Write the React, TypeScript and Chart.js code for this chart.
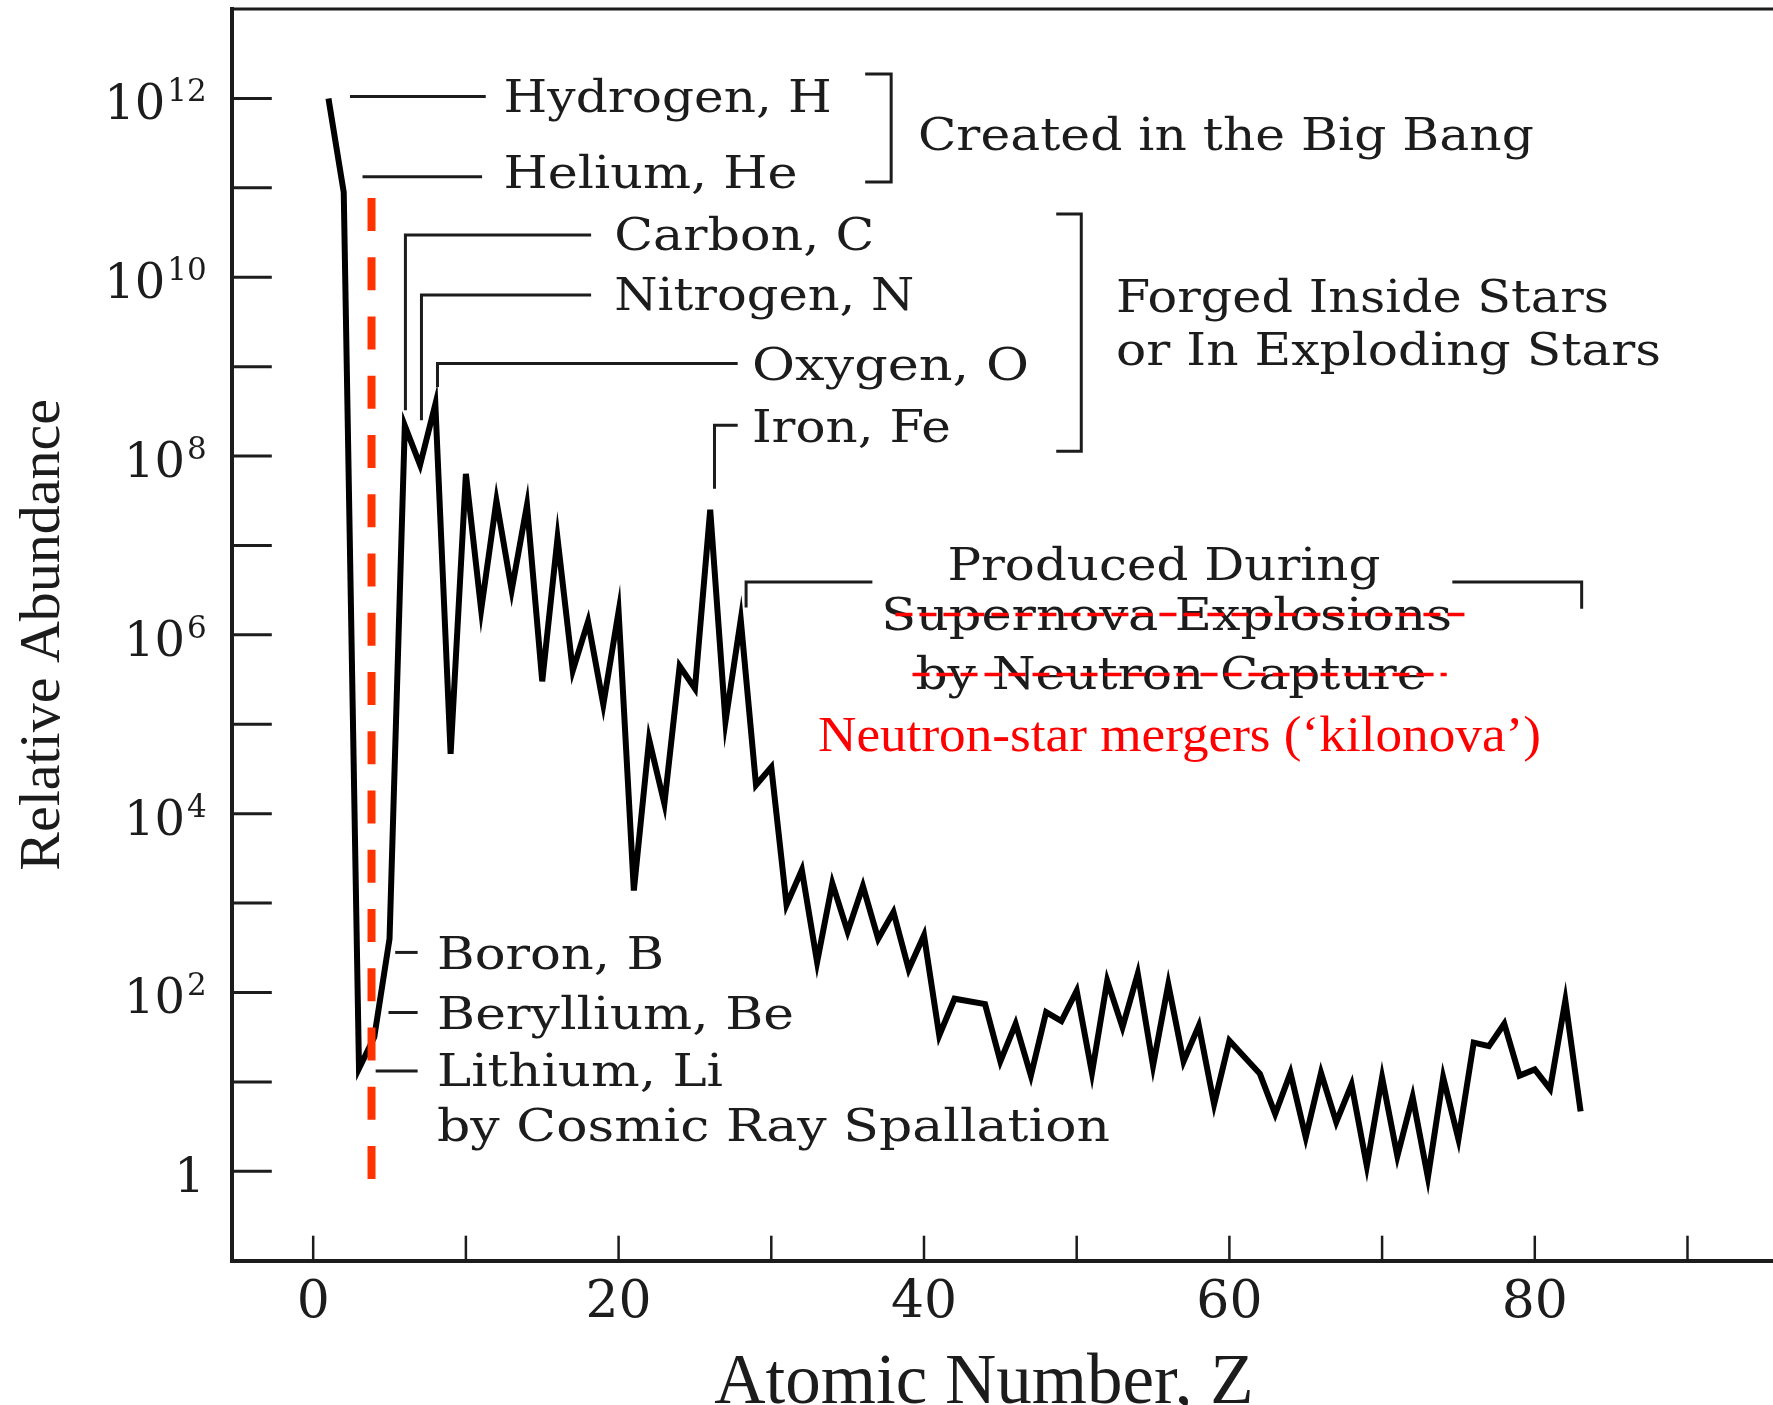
import React, { useEffect, useRef } from "react";
import { Chart, registerables } from "chart.js";

Chart.register(...registerables);

// ---- Data (atomic number Z, log10 of relative abundance; Tc=43 and Pm=61 absent) ----
const atomicNumber = [
  1, 2, 3, 4, 5, 6, 7, 8, 9, 10,
  11, 12, 13, 14, 15, 16, 17, 18, 19, 20,
  21, 22, 23, 24, 25, 26, 27, 28, 29, 30,
  31, 32, 33, 34, 35, 36, 37, 38, 39, 40,
  41, 42, 44, 45, 46, 47, 48, 49, 50,
  51, 52, 53, 54, 55, 56, 57, 58, 59, 60,
  62, 63, 64, 65, 66, 67, 68, 69, 70,
  71, 72, 73, 74, 75, 76, 77, 78, 79, 80,
  81, 82, 83,
];
const log10Abundance = [
  12.0, 10.95, 1.15, 1.5, 2.6, 8.34, 7.9, 8.58, 4.67, 7.8,
  6.28, 7.5, 6.5, 7.45, 5.48, 7.08, 5.6, 6.15, 5.22, 6.26,
  3.14, 4.83, 4.11, 5.65, 5.4, 7.4, 5.03, 6.17, 4.32, 4.52,
  2.98, 3.37, 2.34, 3.22, 2.68, 3.19, 2.6, 2.9, 2.26, 2.64,
  1.52, 1.93, 1.87, 1.23, 1.65, 1.07, 1.78, 1.68, 2.02,
  1.1, 2.13, 1.61, 2.21, 1.18, 2.09, 1.23, 1.63, 0.75, 1.46,
  1.09, 0.64, 1.1, 0.38, 1.1, 0.55, 0.97, 0.06, 1.05,
  0.17, 0.83, -0.07, 1.05, 0.36, 1.44, 1.4, 1.65, 1.07, 1.14,
  0.92, 1.91, 0.67,
];

const xTickValues = [0, 10, 20, 30, 40, 50, 60, 70, 80, 90];
const xLabelValues = [0, 20, 40, 60, 80];
const yTickExponents = [0, 1, 2, 3, 4, 5, 6, 7, 8, 9, 10, 11, 12];
const yLabelExponents = [0, 2, 4, 6, 8, 10, 12];

const xAxisTitle = "Atomic Number, Z";
const yAxisTitle = "Relative Abundance";

const INK = "#1c1c1c";
const SERIF_WIDE = '"DejaVu Serif"';
const SERIF_TIMES = '"Liberation Serif"';

function fitText(
  ctx: CanvasRenderingContext2D,
  text: string,
  x: number,
  y: number,
  width: number,
  size: number,
  family: string,
  color: string,
  align: "left" | "center" = "left"
) {
  ctx.save();
  ctx.font = `${size}px ${family}`;
  const w = ctx.measureText(text).width;
  const sx = width / w;
  ctx.translate(x, y);
  ctx.scale(sx, 1);
  ctx.textAlign = align;
  ctx.textBaseline = "alphabetic";
  ctx.fillStyle = color;
  ctx.fillText(text, 0, 0);
  ctx.restore();
}

const annotate = {
  id: "annotate",
  afterDraw(chart: any) {
    const ctx: CanvasRenderingContext2D = chart.ctx;
    const xs = chart.scales.x;
    const ys = chart.scales.y;
    const ca = chart.chartArea;
    const X = (z: number) => xs.getPixelForValue(z);
    const Y = (v: number) => ys.getPixelForValue(Math.pow(10, v));

    ctx.save();
    // top frame line
    ctx.strokeStyle = INK;
    ctx.lineWidth = 3;
    ctx.beginPath();
    ctx.moveTo(ca.left, ca.top);
    ctx.lineTo(ca.right, ca.top);
    ctx.stroke();

    // inward tick marks
    ctx.lineWidth = 3;
    yTickExponents.forEach((e) => {
      const y = Y(e);
      ctx.beginPath();
      ctx.moveTo(ca.left, y);
      ctx.lineTo(ca.left + 40, y);
      ctx.stroke();
    });
    ctx.lineWidth = 2.5;
    xTickValues.forEach((v) => {
      const x = X(v);
      ctx.beginPath();
      ctx.moveTo(x, ca.bottom);
      ctx.lineTo(x, ca.bottom - 25);
      ctx.stroke();
    });

    // y tick labels with superscript exponents
    ctx.fillStyle = INK;
    ctx.textBaseline = "alphabetic";
    ctx.textAlign = "left";
    const right = ca.left - 25;
    yLabelExponents.forEach((e) => {
      const y = Y(e);
      if (e === 0) {
        ctx.font = `48px ${SERIF_WIDE}`;
        ctx.textAlign = "right";
        ctx.fillText("1", right - 2, y + 21);
        ctx.textAlign = "left";
        return;
      }
      const sup = String(e);
      ctx.font = `31px ${SERIF_WIDE}`;
      const supW = ctx.measureText(sup).width;
      ctx.font = `48px ${SERIF_WIDE}`;
      const baseW = ctx.measureText("10").width;
      const supX = right - supW;
      ctx.fillText("10", supX - baseW - 2, y + 21);
      ctx.font = `31px ${SERIF_WIDE}`;
      ctx.fillText(sup, supX, y + 3);
    });

    // x axis title
    ctx.font = `71px ${SERIF_TIMES}`;
    ctx.textAlign = "center";
    ctx.fillText(xAxisTitle, 984, 1403);

    // leader lines and brackets
    ctx.strokeStyle = INK;
    ctx.lineWidth = 3;
    ctx.lineJoin = "miter";
    const poly = (pts: number[][]) => {
      ctx.beginPath();
      pts.forEach(([z, v], i) => (i === 0 ? ctx.moveTo(X(z), Y(v)) : ctx.lineTo(X(z), Y(v))));
      ctx.stroke();
    };
    poly([[2.41, 12.02], [11.3, 12.02]]);
    poly([[3.23, 11.123], [11.06, 11.123]]);
    poly([[36.15, 12.273], [37.85, 12.273], [37.85, 11.064], [36.15, 11.064]]);
    poly([[6.04, 8.512], [6.04, 10.471], [18.2, 10.471]]);
    poly([[7.09, 8.4], [7.09, 9.8], [18.2, 9.8]]);
    poly([[8.14, 8.773], [8.14, 9.035], [27.8, 9.035]]);
    poly([[26.28, 7.633], [26.28, 8.344], [27.8, 8.344]]);
    poly([[48.66, 10.706], [50.3, 10.706], [50.3, 8.053], [48.66, 8.053]]);
    poly([[28.35, 6.306], [28.35, 6.59], [36.62, 6.59]]);
    poly([[74.6, 6.59], [83.07, 6.59], [83.07, 6.292]]);
    poly([[5.37, 2.448], [6.84, 2.448]]);
    poly([[4.93, 1.776], [6.84, 1.776]]);
    poly([[4.09, 1.123], [6.84, 1.123]]);

    // annotation text
    const T = (s: string, z: number, v: number, w: number, align: "left" | "center" = "left") =>
      fitText(ctx, s, X(z), Y(v), w, 45, SERIF_WIDE, INK, align);
    T("Hydrogen, H", 12.47, 11.851, 328);
    T("Helium, He", 12.47, 10.994, 294);
    T("Created in the Big Bang", 39.6, 11.422, 616);
    T("Carbon, C", 19.72, 10.303, 260);
    T("Nitrogen, N", 19.72, 9.631, 300);
    T("Oxygen, O", 28.73, 8.848, 277);
    T("Iron, Fe", 28.73, 8.157, 199);
    T("Forged Inside Stars", 52.58, 9.612, 493);
    T("or In Exploding Stars", 52.58, 9.016, 545);
    T("Produced During", 55.71, 6.609, 433, "center");
    T("Supernova Explosions", 55.89, 6.049, 571, "center");
    T("by Neutron Capture", 56.17, 5.396, 511, "center");
    T("Boron, B", 8.11, 2.262, 227);
    T("Beryllium, Be", 8.11, 1.59, 357);
    T("Lithium, Li", 8.11, 0.955, 286);
    T("by Cosmic Ray Spallation", 8.11, 0.34, 673);

    // red strike-through lines
    ctx.strokeStyle = "#ff0000";
    ctx.lineWidth = 3.5;
    ctx.setLineDash([17, 7]);
    poly([[38.13, 6.228], [75.55, 6.228]]);
    poly([[39.25, 5.556], [74.23, 5.556]]);

    // red replacement text
    fitText(ctx, "Neutron-star mergers (\u2018kilonova\u2019)", X(56.73), Y(4.706), 723, 50, SERIF_TIMES, "#ff0000", "center");

    // red dashed vertical line
    ctx.strokeStyle = "#ff3300";
    ctx.lineWidth = 8;
    ctx.lineCap = "butt";
    ctx.setLineDash([33, 26.25]);
    poly([[3.82, 10.885], [3.82, -0.098]]);
    ctx.setLineDash([]);
    ctx.restore();
  },
};

export default function App() {
  const ref = useRef<HTMLCanvasElement | null>(null);

  useEffect(() => {
    document.body.style.margin = "0";
    document.body.style.overflow = "hidden";
    const canvas = ref.current;
    if (!canvas) return;
    const points = atomicNumber.map((z, i) => ({ x: z, y: Math.pow(10, log10Abundance[i]) }));
    const chart = new Chart(canvas, {
      type: "line",
      data: {
        datasets: [
          {
            data: points,
            borderColor: "#000000",
            borderWidth: 6,
            pointRadius: 0,
            tension: 0,
            fill: false,
            borderJoinStyle: "miter",
          },
        ],
      },
      options: {
        responsive: false,
        animation: false,
        devicePixelRatio: 1,
        layout: { padding: { top: 9, left: 0, right: 0, bottom: 0 } },
        plugins: { legend: { display: false }, tooltip: { enabled: false } },
        scales: {
          x: {
            type: "linear",
            min: -5.33,
            max: 95.6,
            afterBuildTicks: (s: any) => {
              s.ticks = xTickValues.map((v) => ({ value: v }));
            },
            afterFit: (s: any) => {
              s.height = 144.3;
            },
            grid: { display: false, drawTicks: false },
            border: { display: true, width: 4, color: INK },
            ticks: {
              autoSkip: false,
              maxRotation: 0,
              padding: 12,
              color: INK,
              font: { family: "DejaVu Serif", size: 52 },
              callback: (v: any) => (xLabelValues.includes(Number(v)) ? String(v) : ""),
            },
          },
          y: {
            type: "logarithmic",
            min: 0.1,
            max: 1e13,
            afterBuildTicks: (s: any) => {
              s.ticks = yTickExponents.map((e) => ({ value: Math.pow(10, e) }));
            },
            afterFit: (s: any) => {
              s.width = 231.8;
            },
            grid: { display: false, drawTicks: false },
            border: { display: true, width: 4, color: INK },
            ticks: { display: false },
            title: {
              display: true,
              text: yAxisTitle,
              color: INK,
              font: { family: "Liberation Serif", size: 58, lineHeight: 1 },
              padding: { top: 15, bottom: 0 },
            },
          },
        },
      },
      plugins: [annotate],
    } as any);
    return () => chart.destroy();
  }, []);

  return (
    <div style={{ width: 1773, height: 1405, position: "relative" }}>
      <canvas ref={ref} width={1773} height={1405} style={{ display: "block", width: 1773, height: 1405 }} />
    </div>
  );
}
